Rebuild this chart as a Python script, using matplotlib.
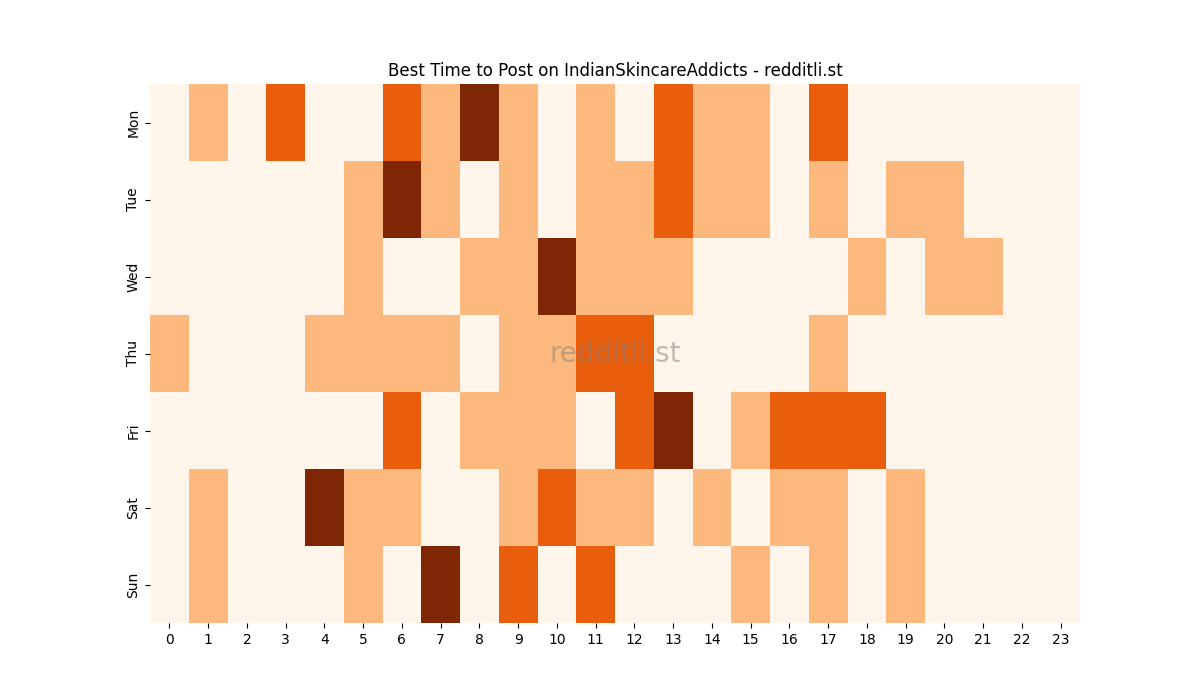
import matplotlib
matplotlib.use("Agg")
import matplotlib.pyplot as plt
import numpy as np
import seaborn as sns

days = ["Mon", "Tue", "Wed", "Thu", "Fri", "Sat", "Sun"]
hours = list(range(24))

mon = [0, 1, 0, 2, 0, 0, 2, 1, 3, 1, 0, 1, 0, 2, 1, 1, 0, 2, 0, 0, 0, 0, 0, 0]
tue = [0, 0, 0, 0, 0, 1, 3, 1, 0, 1, 0, 1, 1, 2, 1, 1, 0, 1, 0, 1, 1, 0, 0, 0]
wed = [0, 0, 0, 0, 0, 1, 0, 0, 1, 1, 3, 1, 1, 1, 0, 0, 0, 0, 1, 0, 1, 1, 0, 0]
thu = [1, 0, 0, 0, 1, 1, 1, 1, 0, 1, 1, 2, 2, 0, 0, 0, 0, 1, 0, 0, 0, 0, 0, 0]
fri = [0, 0, 0, 0, 0, 0, 2, 0, 1, 1, 1, 0, 2, 3, 0, 1, 2, 2, 2, 0, 0, 0, 0, 0]
sat = [0, 1, 0, 0, 3, 1, 1, 0, 0, 1, 2, 1, 1, 0, 1, 0, 1, 1, 0, 1, 0, 0, 0, 0]
sun = [0, 1, 0, 0, 0, 1, 0, 3, 0, 2, 0, 2, 0, 0, 0, 1, 0, 1, 0, 1, 0, 0, 0, 0]

data = np.array([mon, tue, wed, thu, fri, sat, sun])

fig, ax = plt.subplots(figsize=(12, 7), dpi=100)
sns.heatmap(data, cmap="Oranges", cbar=False, xticklabels=hours,
            yticklabels=days, ax=ax)
ax.set_title("Best Time to Post on IndianSkincareAddicts - redditli.st")
ax.text(0.5, 0.5, "redditli.st", transform=ax.transAxes, fontsize=20,
        color="grey", alpha=0.5, ha="center", va="center")

plt.savefig("out.png")
